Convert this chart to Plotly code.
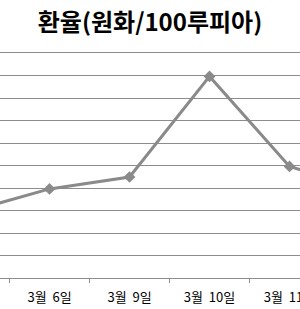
import plotly.graph_objects as go

categories = ["3월 5일", "3월 6일", "3월 9일", "3월 10일", "3월 11일", "3월 12일"]
tick_labels = ["3월\u00a0\u00a05일", "3월\u00a0\u00a06일", "3월\u00a0\u00a09일", "3월\u00a0\u00a010일", "3월\u00a0\u00a011일", "3월\u00a0\u00a012일"]
values = [2.96, 3.96, 4.49, 8.96, 4.96, 3.88]
title_text = "환율(원화/100루피아)"

GRAY = "#8a8a8a"
GRID = "#8c8c8c"

fig = go.Figure()
fig.add_trace(go.Scatter(
    x=categories, y=values, mode="lines+markers",
    line=dict(color=GRAY, width=3),
    marker=dict(symbol="diamond", size=9, color=GRAY),
))

fig.update_layout(
    template="none",
    width=300, height=309,
    margin=dict(l=0, r=0, t=53, b=31, pad=0),
    paper_bgcolor="white", plot_bgcolor="white",
    showlegend=False,
    title=dict(text=title_text, x=0.5, xanchor="center", y=0.928, yanchor="middle",
               font=dict(family="Noto Sans CJK KR", size=24, color="#000000", weight="bold")),
    xaxis=dict(
        type="category", range=[0.381, 4.131], automargin=False,
        tickmode="array", tickvals=categories, ticktext=tick_labels,
        tickson="boundaries", ticks="outside", ticklen=4, tickcolor=GRID, tickwidth=1,
        showline=True, linecolor=GRID, linewidth=1, mirror=True,
        showgrid=False, zeroline=False,
        ticklabelstandoff=7,
        tickfont=dict(family="Noto Sans CJK KR", size=13, color="#000000"),
    ),
    yaxis=dict(
        range=[0, 10], dtick=1, showticklabels=False, automargin=False,
        showgrid=True, gridcolor=GRID, gridwidth=1,
        zeroline=False, showline=False, ticks="",
    ),
)

fig.write_html("out.html")
